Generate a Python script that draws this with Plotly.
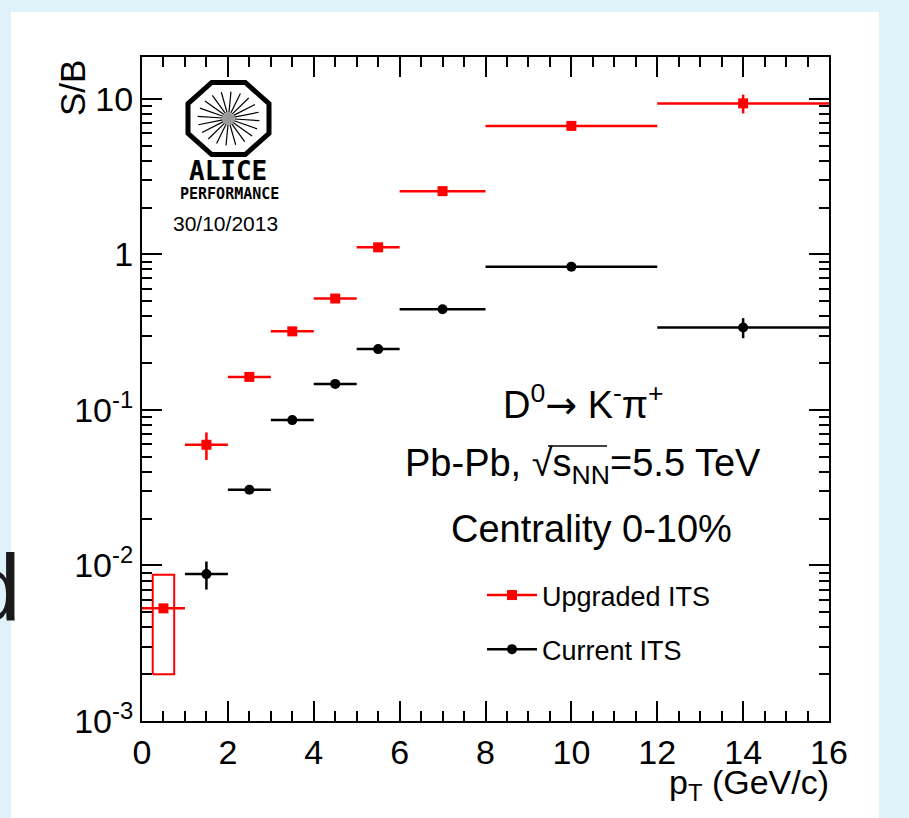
import math
import plotly.graph_objects as go

# ---------------- data ----------------
pt_centers = [0.5, 1.5, 2.5, 3.5, 4.5, 5.5, 7.0, 10.0, 14.0]
pt_halfwidths = [0.5, 0.5, 0.5, 0.5, 0.5, 0.5, 1.0, 2.0, 2.0]

upg_sb = [0.0053, 0.0597, 0.163, 0.32, 0.52, 1.11, 2.55, 6.7, 9.35]
upg_err = [0.0, 0.012, 0.006, 0.012, 0.02, 0.06, 0.12, 0.45, 1.3]

cur_pt = [1.5, 2.5, 3.5, 4.5, 5.5, 7.0, 10.0, 14.0]
cur_halfwidths = [0.5, 0.5, 0.5, 0.5, 0.5, 1.0, 2.0, 2.0]
cur_sb = [0.0088, 0.0307, 0.086, 0.147, 0.246, 0.444, 0.834, 0.339]
cur_err = [0.0018, 0.0008, 0.002, 0.004, 0.012, 0.015, 0.05, 0.05]

# systematic box for the lowest upgraded bin
sys_pt = [0.5]
sys_halfwidth = [0.25]
sys_low = [0.0020]
sys_high = [0.0087]

x_ticks = list(range(0, 17, 2))
y_tickvals = [0.001, 0.01, 0.1, 1, 10]
y_ticktext = ["10<sup>-3</sup>", "10<sup>-2</sup>", "10<sup>-1</sup>", "1", "10"]

# ---------------- layout geometry ----------------
W, H = 909, 818
L, R, T, B = 142, 829, 57, 721
FONT = "Liberation Sans, Arial, Helvetica, sans-serif"
RED = "#ff0000"


def px(x):
    return (x - L) / (R - L)


def py(y):
    return (B - y) / (B - T)


fig = go.Figure()

# systematic box
for xc, hw, lo, hi in zip(sys_pt, sys_halfwidth, sys_low, sys_high):
    fig.add_trace(go.Scatter(
        x=[xc - hw, xc + hw, xc + hw, xc - hw, xc - hw],
        y=[lo, lo, hi, hi, lo], mode="lines",
        line=dict(color=RED, width=2), showlegend=False, hoverinfo="skip"))

fig.add_trace(go.Scatter(
    x=pt_centers, y=upg_sb, mode="markers",
    marker=dict(symbol="square", size=10, color=RED),
    error_x=dict(type="data", array=pt_halfwidths, color=RED, thickness=2.5, width=0),
    error_y=dict(type="data", array=upg_err, color=RED, thickness=2.5, width=0),
    showlegend=False))

fig.add_trace(go.Scatter(
    x=cur_pt, y=cur_sb, mode="markers",
    marker=dict(symbol="circle", size=10, color="black"),
    error_x=dict(type="data", array=cur_halfwidths, color="black", thickness=2.5, width=0),
    error_y=dict(type="data", array=cur_err, color="black", thickness=2.5, width=0),
    showlegend=False))

# legend entries
fig.add_trace(go.Scatter(x=[None], y=[None], mode="lines+markers", name="Upgraded ITS",
                         legendgroup="a",
                         line=dict(color=RED, width=2.5),
                         marker=dict(symbol="square", size=10, color=RED)))
fig.add_trace(go.Scatter(x=[None], y=[None], mode="lines+markers", name="Current ITS",
                         legendgroup="b",
                         line=dict(color="black", width=2.5),
                         marker=dict(symbol="circle", size=10, color="black")))

minor_y = [k * 10 ** e for e in range(-3, 2) for k in range(2, 10)]

fig.update_xaxes(range=[0, 16], tickvals=x_ticks, ticks="inside", ticklen=20, tickwidth=1.5,
                 tickcolor="black", mirror="allticks", showline=True, linewidth=2,
                 linecolor="black", showgrid=False, zeroline=False,
                 tickfont=dict(size=34, color="black", family=FONT),
                 minor=dict(dtick=0.5, ticklen=10, tickwidth=1.5, tickcolor="black",
                            ticks="inside", showgrid=False))
fig.update_yaxes(type="log", range=[-3, 1.269], tickvals=y_tickvals, ticktext=y_ticktext,
                 ticks="inside", ticklen=20, tickwidth=1.5, tickcolor="black",
                 mirror="allticks", showline=True, linewidth=2, linecolor="black",
                 showgrid=False, zeroline=False,
                 tickfont=dict(size=34, color="black", family=FONT),
                 minor=dict(tickmode="array", tickvals=minor_y, ticklen=10, tickwidth=1.5,
                            tickcolor="black", ticks="inside", showgrid=False))

shapes = []
# white panel
shapes.append(dict(type="rect", xref="paper", yref="paper", layer="below",
                   x0=px(11), x1=px(879), y0=py(840), y1=py(12),
                   fillcolor="white", line=dict(width=0)))

# ALICE logo: octagon with spokes
cx, cy = 228.5, 118.5
rx, ry = 40.5 / math.cos(math.pi / 8), 36 / math.cos(math.pi / 8)
pts = []
for k in range(8):
    a = math.pi / 8 + k * math.pi / 4
    pts.append((px(cx + rx * math.cos(a)), py(cy + ry * math.sin(a))))
path = "M " + " L ".join(f"{a:.5f},{b:.5f}" for a, b in pts) + " Z"
shapes.append(dict(type="path", xref="paper", yref="paper", path=path,
                   line=dict(color="black", width=5)))
for k in range(20):
    a = k * 2 * math.pi / 20 + 0.08
    r0, r1x, r1y = 6, 31, 27
    shapes.append(dict(type="line", xref="paper", yref="paper",
                       x0=px(cx + r0 * math.cos(a)), y0=py(cy + r0 * math.sin(a)),
                       x1=px(cx + r1x * math.cos(a)), y1=py(cy + r1y * math.sin(a)),
                       line=dict(color="black", width=1.2)))
shapes.append(dict(type="circle", xref="paper", yref="paper",
                   x0=px(cx - 6), x1=px(cx + 6), y0=py(cy + 6), y1=py(cy - 6),
                   fillcolor="#999999", line=dict(width=0)))

# overline of the square root
shapes.append(dict(type="line", xref="paper", yref="paper",
                   x0=px(548), x1=px(607), y0=py(446), y1=py(446),
                   line=dict(color="black", width=1.5)))

ARROW = '<span style="font-family:DejaVu Sans">\u2192</span>'
annotations = [
    dict(text="S/B", x=px(72), y=py(58), xref="paper", yref="paper", textangle=-90,
         xanchor="center", yanchor="top", showarrow=False,
         font=dict(size=35, color="black", family=FONT)),
    dict(text="p<sub>T</sub> (GeV/c)", x=px(831), y=py(761), xref="paper", yref="paper",
         xanchor="right", yanchor="top", showarrow=False,
         font=dict(size=34, color="black", family=FONT)),
    dict(text="D<sup>0</sup>" + ARROW + " K<sup>-</sup>\u03c0<sup>+</sup>", x=px(583), y=py(402),
         xref="paper", yref="paper", xanchor="center", yanchor="middle", showarrow=False,
         font=dict(size=38, color="black", family=FONT)),
    dict(text="Pb-Pb, \u221as<sub>NN</sub>=5.5 TeV", x=px(583), y=py(466),
         xref="paper", yref="paper", xanchor="center", yanchor="middle", showarrow=False,
         font=dict(size=38, color="black", family=FONT)),
    dict(text="Centrality 0-10%", x=px(591), y=py(529),
         xref="paper", yref="paper", xanchor="center", yanchor="middle", showarrow=False,
         font=dict(size=38, color="black", family=FONT)),
    dict(text="<b>ALICE</b>", x=px(228), y=py(171), xref="paper", yref="paper",
         xanchor="center", yanchor="middle", showarrow=False,
         font=dict(size=26, color="black", family="DejaVu Sans Mono")),
    dict(text="<b>PERFORMANCE</b>", x=px(229), y=py(194), xref="paper", yref="paper",
         xanchor="center", yanchor="middle", showarrow=False,
         font=dict(size=15, color="black", family="DejaVu Sans Mono")),
    dict(text="30/10/2013", x=px(225), y=py(223), xref="paper", yref="paper",
         xanchor="center", yanchor="middle", showarrow=False,
         font=dict(size=21, color="black", family=FONT)),
    dict(text="d", x=px(23), y=py(588), xref="paper", yref="paper",
         xanchor="right", yanchor="middle", showarrow=False,
         font=dict(size=95, color="#1a1a1a", family=FONT)),
    dict(text="ALI-PERF-60050", x=px(25), y=py(815), xref="paper", yref="paper",
         xanchor="left", yanchor="top", showarrow=False,
         font=dict(size=15, color="#b0b0b0", family=FONT)),
]

fig.update_layout(
    width=W, height=H,
    margin=dict(l=L, r=W - R, t=T, b=H - B),
    paper_bgcolor="#dff2fa", plot_bgcolor="white",
    font=dict(family=FONT, color="black"),
    shapes=shapes, annotations=annotations,
    showlegend=True,
    legend=dict(x=px(482), y=py(571), xanchor="left", yanchor="top",
                bgcolor="rgba(0,0,0,0)", borderwidth=0,
                font=dict(size=27, color="black", family=FONT),
                tracegroupgap=16, itemwidth=50),
)

fig.write_html("out.html")
